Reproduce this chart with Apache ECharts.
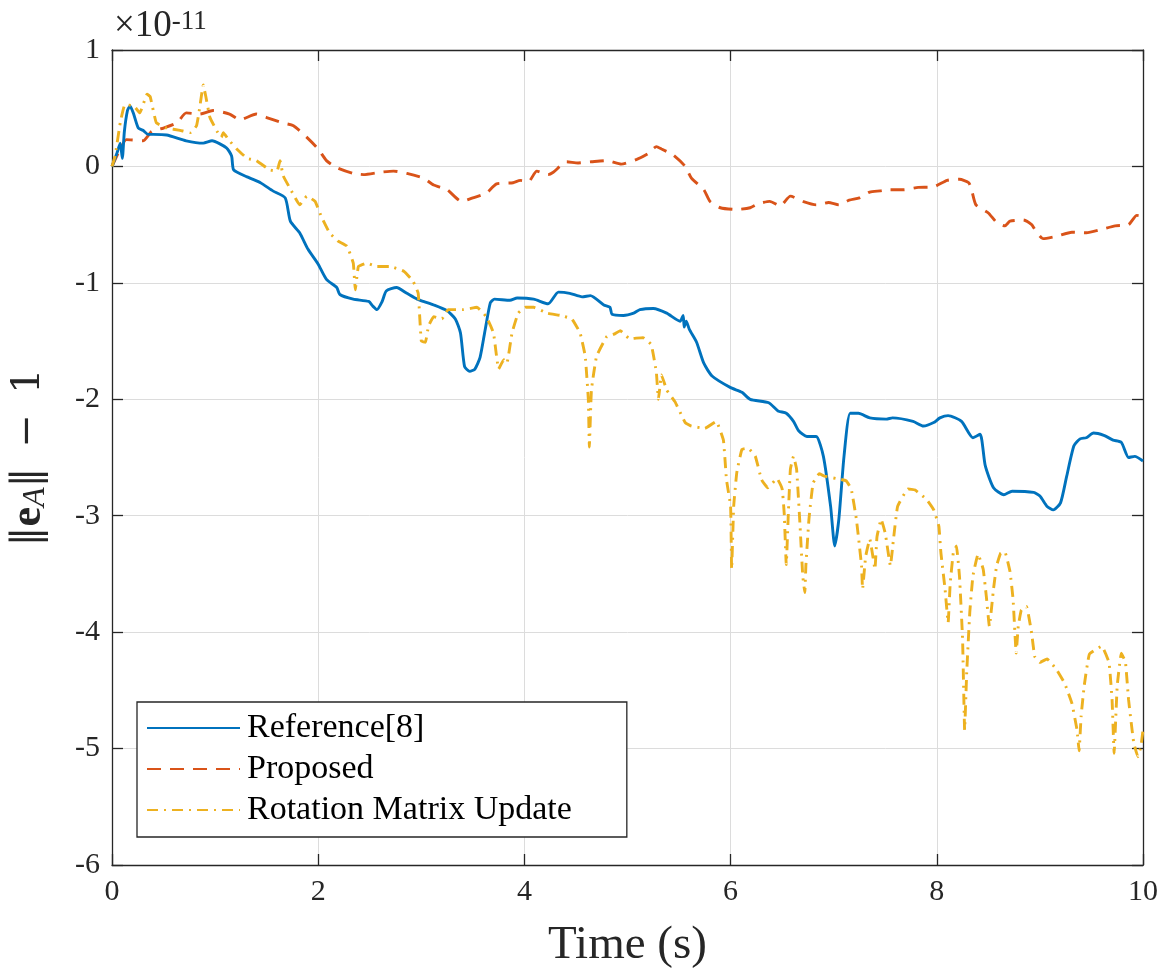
<!DOCTYPE html>
<html>
<head>
<meta charset="utf-8">
<script src="https://cdn.jsdelivr.net/npm/echarts@6/dist/echarts.min.js"></script>
<style>html,body{margin:0;padding:0;background:#fff}#c{width:1169px;height:972px}</style>
</head>
<body>
<div id="c"></div>
<script>
// values in units of 1e-11
const xTicks = [0, 2, 4, 6, 8, 10];
const yTicks = [1, 0, -1, -2, -3, -4, -5, -6];
const seriesNames = ['Reference[8]', 'Proposed', 'Rotation Matrix Update'];

const refT = [0,0.05,0.08,0.10,0.12,0.15,0.175,0.21,0.255,0.30,0.35,0.40,0.53,0.72,0.885,0.97,1.11,1.16,1.18,1.31,1.44,1.56,1.68,1.73,1.82,1.90,2.00,2.08,2.18,2.21,2.34,2.49,2.53,2.57,2.62,2.66,2.76,2.86,2.96,3.02,3.12,3.25,3.33,3.38,3.42,3.47,3.52,3.57,3.62,3.67,3.71,3.86,3.93,4.09,4.23,4.33,4.44,4.56,4.64,4.77,4.83,4.85,4.96,5.06,5.12,5.25,5.38,5.51,5.54,5.55,5.57,5.60,5.67,5.74,5.82,6.00,6.11,6.19,6.37,6.46,6.54,6.61,6.66,6.74,6.83,6.90,6.97,7.01,7.05,7.10,7.16,7.24,7.35,7.51,7.57,7.77,7.87,7.97,8.03,8.11,8.24,8.35,8.42,8.47,8.55,8.65,8.73,8.94,9.00,9.07,9.13,9.20,9.26,9.33,9.39,9.45,9.52,9.62,9.71,9.79,9.86,9.92,10];
const refV = [0,0.12,0.2,0.07,0.3,0.48,0.52,0.45,0.33,0.31,0.275,0.275,0.27,0.22,0.20,0.22,0.16,0.09,-0.03,-0.09,-0.14,-0.21,-0.27,-0.47,-0.57,-0.71,-0.84,-0.97,-1.04,-1.10,-1.14,-1.16,-1.20,-1.23,-1.16,-1.07,-1.04,-1.09,-1.14,-1.16,-1.19,-1.24,-1.31,-1.43,-1.72,-1.76,-1.74,-1.64,-1.40,-1.17,-1.14,-1.15,-1.13,-1.14,-1.18,-1.08,-1.09,-1.12,-1.11,-1.19,-1.21,-1.27,-1.28,-1.26,-1.23,-1.22,-1.26,-1.33,-1.28,-1.38,-1.33,-1.40,-1.51,-1.69,-1.80,-1.90,-1.94,-2.00,-2.03,-2.10,-2.12,-2.19,-2.27,-2.32,-2.32,-2.49,-2.92,-3.26,-3.03,-2.49,-2.12,-2.12,-2.16,-2.17,-2.16,-2.19,-2.23,-2.20,-2.16,-2.14,-2.19,-2.33,-2.30,-2.57,-2.76,-2.82,-2.79,-2.80,-2.83,-2.92,-2.95,-2.89,-2.66,-2.40,-2.34,-2.33,-2.29,-2.31,-2.35,-2.37,-2.50,-2.49,-2.53];

const propT = [0,0.08,0.14,0.30,0.385,0.50,0.63,0.72,0.85,0.98,1.14,1.24,1.40,1.50,1.65,1.76,1.89,2.00,2.08,2.18,2.34,2.44,2.60,2.73,2.86,3.02,3.12,3.25,3.39,3.50,3.63,3.73,3.89,3.96,4.04,4.12,4.23,4.28,4.41,4.52,4.65,4.80,4.94,5.09,5.20,5.28,5.33,5.44,5.56,5.62,5.74,5.80,5.90,6.06,6.19,6.27,6.38,6.48,6.58,6.70,6.83,6.95,7.05,7.15,7.25,7.35,7.45,7.53,7.68,7.82,7.97,8.10,8.22,8.31,8.34,8.38,8.50,8.58,8.66,8.71,8.84,8.92,8.95,9.03,9.16,9.31,9.45,9.60,9.73,9.86,9.94,10];
const propV = [0,0.15,0.23,0.22,0.30,0.33,0.375,0.46,0.45,0.48,0.45,0.40,0.45,0.42,0.375,0.35,0.25,0.15,0.05,-0.01,-0.06,-0.07,-0.05,-0.04,-0.06,-0.10,-0.16,-0.20,-0.30,-0.27,-0.23,-0.15,-0.14,-0.12,-0.13,-0.04,-0.07,-0.05,0.04,0.03,0.04,0.05,0.02,0.06,0.11,0.17,0.15,0.10,0.00,-0.10,-0.20,-0.30,-0.355,-0.37,-0.355,-0.32,-0.30,-0.34,-0.255,-0.30,-0.33,-0.31,-0.33,-0.29,-0.27,-0.22,-0.21,-0.20,-0.20,-0.18,-0.175,-0.12,-0.11,-0.14,-0.21,-0.33,-0.40,-0.48,-0.51,-0.47,-0.46,-0.50,-0.54,-0.62,-0.60,-0.565,-0.57,-0.54,-0.51,-0.50,-0.42,-0.43];

const rotT = [0,0.03,0.08,0.125,0.21,0.27,0.34,0.37,0.43,0.53,0.66,0.76,0.82,0.85,0.885,0.91,0.95,1.02,1.06,1.08,1.13,1.21,1.31,1.40,1.53,1.60,1.63,1.66,1.74,1.82,1.89,1.97,2.03,2.11,2.19,2.28,2.34,2.36,2.39,2.47,2.57,2.70,2.83,2.92,2.97,3.00,3.04,3.07,3.12,3.20,3.26,3.41,3.54,3.63,3.70,3.75,3.80,3.83,3.88,3.94,4.01,4.09,4.22,4.35,4.46,4.54,4.59,4.62,4.63,4.65,4.70,4.80,4.87,4.93,5.02,5.15,5.23,5.28,5.30,5.33,5.38,5.46,5.56,5.62,5.75,5.86,5.93,5.96,6.00,6.01,6.03,6.06,6.11,6.17,6.24,6.30,6.36,6.45,6.50,6.52,6.54,6.56,6.58,6.61,6.64,6.67,6.70,6.72,6.73,6.76,6.80,6.86,6.91,7.02,7.12,7.17,7.22,7.27,7.28,7.31,7.35,7.38,7.40,7.42,7.46,7.50,7.55,7.58,7.62,7.72,7.79,7.90,7.97,8.02,8.04,8.08,8.11,8.13,8.16,8.19,8.22,8.25,8.27,8.29,8.32,8.35,8.40,8.45,8.48,8.51,8.55,8.58,8.62,8.66,8.71,8.74,8.77,8.79,8.82,8.87,8.92,8.95,9.00,9.07,9.16,9.24,9.31,9.36,9.38,9.40,9.43,9.48,9.60,9.67,9.70,9.72,9.75,9.79,9.83,9.86,9.91,9.95,9.98,10];
const rotV = [0,0.09,0.375,0.53,0.52,0.46,0.62,0.60,0.375,0.33,0.31,0.29,0.35,0.50,0.70,0.60,0.42,0.30,0.25,0.29,0.23,0.15,0.07,0.05,-0.03,-0.04,0.05,-0.08,-0.21,-0.33,-0.255,-0.30,-0.43,-0.57,-0.64,-0.685,-0.83,-1.06,-0.86,-0.83,-0.86,-0.86,-0.90,-0.985,-1.09,-1.50,-1.51,-1.37,-1.29,-1.31,-1.23,-1.23,-1.21,-1.29,-1.43,-1.74,-1.66,-1.69,-1.43,-1.26,-1.21,-1.21,-1.26,-1.28,-1.31,-1.43,-1.63,-2.00,-2.41,-1.92,-1.63,-1.46,-1.44,-1.41,-1.48,-1.47,-1.53,-1.77,-2.00,-1.79,-1.92,-2.02,-2.20,-2.23,-2.25,-2.19,-2.35,-2.69,-2.92,-3.46,-2.92,-2.63,-2.43,-2.42,-2.49,-2.69,-2.76,-2.68,-2.77,-2.98,-3.42,-2.98,-2.60,-2.49,-2.60,-3.03,-3.52,-3.66,-3.43,-3.03,-2.72,-2.64,-2.66,-2.68,-2.70,-2.77,-3.03,-3.43,-3.63,-3.35,-3.20,-3.35,-3.46,-3.18,-3.03,-3.15,-3.43,-3.20,-2.92,-2.77,-2.78,-2.86,-2.95,-3.09,-3.32,-3.63,-3.92,-3.58,-3.32,-3.26,-3.52,-4.06,-4.84,-4.35,-3.83,-3.52,-3.33,-3.46,-3.69,-3.95,-3.63,-3.43,-3.32,-3.31,-3.48,-3.72,-4.18,-3.95,-3.81,-3.78,-4.01,-4.21,-4.26,-4.23,-4.32,-4.44,-4.61,-4.84,-5.02,-4.72,-4.46,-4.19,-4.12,-4.26,-4.58,-5.04,-4.46,-4.18,-4.26,-4.58,-4.95,-5.07,-4.98,-4.84];

const pair = (t, v) => t.map((x, i) => [x, v[i]]);
const FONT = 'Liberation Serif';
const chart = echarts.init(document.getElementById('c'), null, {renderer: 'canvas'});
const axisCommon = {
  axisLine: {show: true, onZero: false, lineStyle: {color: '#262626', width: 1.3}},
  axisTick: {show: true, inside: true, length: 11, lineStyle: {color: '#262626', width: 1.3}},
};
chart.setOption({
  animation: false,
  backgroundColor: '#fff',
  grid: {left: 112, right: 26, top: 50, bottom: 107, containLabel: false, outerBoundsMode: 'none'},
  graphic: [{
    type: 'text', left: 114, top: 8,
    style: {
      text: '{a|\u00d710}{b|-11}',
      rich: {
        a: {fontFamily: FONT, fontSize: 37, fill: '#262626', verticalAlign: 'bottom'},
        b: {fontFamily: FONT, fontSize: 27, fill: '#262626', verticalAlign: 'top'}
      }
    }
  }],
  legend: {
    left: 137, top: 702, orient: 'vertical',
    backgroundColor: '#fff', borderColor: '#262626', borderWidth: 1.3, borderRadius: 0,
    padding: [9, 55, 10, 9], itemGap: 7, itemWidth: 93, itemHeight: 16,
    itemStyle: {opacity: 0},
    textStyle: {fontFamily: FONT, fontSize: 34, color: '#000', padding: [0, 0, 0, 2]},
    data: seriesNames
  },
  xAxis: [
    Object.assign({
      type: 'value', min: 0, max: 10, interval: 2, position: 'bottom',
      name: 'Time (s)', nameLocation: 'middle', nameGap: 57,
      nameTextStyle: {fontFamily: FONT, fontSize: 47, color: '#262626'},
      axisLabel: {fontFamily: FONT, fontSize: 30, color: '#262626', margin: 12,
        formatter: v => xTicks.includes(v) ? String(v) : ''},
      splitLine: {show: true, lineStyle: {color: '#dcdcdc', width: 1}}
    }, axisCommon),
    Object.assign({
      type: 'value', min: 0, max: 10, interval: 2, position: 'top',
      axisLabel: {show: false}, splitLine: {show: false}
    }, axisCommon)
  ],
  yAxis: [
    Object.assign({
      type: 'value', min: -6, max: 1, interval: 1, position: 'left',
      name: '{n|\u2016}{b|e}{s|A}{n|\u2016\u2002\u2212\u20021}', nameLocation: 'middle', nameGap: 60, nameRotate: 90,
      nameTextStyle: {
        rich: {
          n: {fontFamily: 'DejaVu Serif', fontSize: 40, color: '#262626'},
          b: {fontFamily: FONT, fontSize: 44, fontWeight: 'bold', color: '#262626'},
          s: {fontFamily: FONT, fontSize: 32, fontStyle: 'italic', color: '#262626', verticalAlign: 'bottom', padding: [14, 0, 0, 0]}
        }
      },
      axisLabel: {fontFamily: FONT, fontSize: 30, color: '#262626', margin: 12,
        formatter: v => yTicks.includes(v) ? String(v) : ''},
      splitLine: {show: true, lineStyle: {color: '#dcdcdc', width: 1}}
    }, axisCommon),
    Object.assign({
      type: 'value', min: -6, max: 1, interval: 1, position: 'right',
      axisLabel: {show: false}, splitLine: {show: false}
    }, axisCommon)
  ],
  series: [
    {name: seriesNames[0], type: 'line', xAxisIndex: 0, yAxisIndex: 0, data: pair(refT, refV),
      symbol: 'none', smooth: 0.2, lineStyle: {color: '#0072BD', width: 2.9, type: 'solid'}, itemStyle: {color: '#0072BD'}, z: 3},
    {name: seriesNames[1], type: 'line', xAxisIndex: 0, yAxisIndex: 0, data: pair(propT, propV),
      symbol: 'none', smooth: 0.2, lineStyle: {color: '#D95319', width: 2.9, type: [14, 9]}, itemStyle: {color: '#D95319'}, z: 2},
    {name: seriesNames[2], type: 'line', xAxisIndex: 0, yAxisIndex: 0, data: pair(rotT, rotV),
      symbol: 'none', smooth: 0.1, lineStyle: {color: '#EDB120', width: 2.9, type: [11, 6, 2, 6]}, itemStyle: {color: '#EDB120'}, z: 4}
  ]
});
</script>
</body>
</html>
